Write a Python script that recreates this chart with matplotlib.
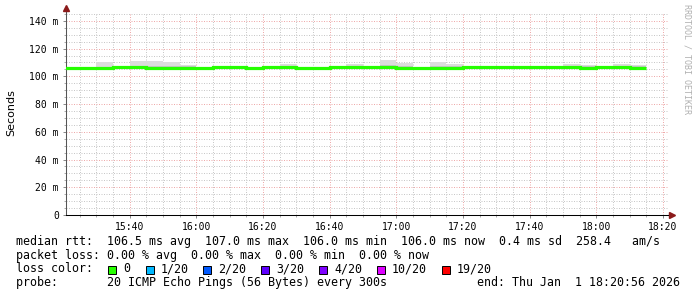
import matplotlib
matplotlib.use('Agg')
import matplotlib.pyplot as plt
import matplotlib.dates as mdates
from matplotlib.ticker import MultipleLocator, FuncFormatter
from matplotlib.patches import Rectangle
import pandas as pd

plt.rcParams['font.family'] = ['DejaVu Sans Mono']

W, H = 697, 297

# ---- data -------------------------------------------------------------
step_edges = pd.date_range('2026-01-01 15:20', periods=36, freq='5min')
median_ms = [106.0, 106.0, 106.0, 107.0, 107.0, 106.0, 106.0, 106.0, 106.0, 107.0,
             107.0, 106.0, 107.0, 107.0, 106.3, 106.0, 107.0, 107.0, 107.0, 107.0,
             106.0, 106.0, 106.0, 106.0, 107.0, 107.0, 107.0, 107.0, 107.0, 107.0,
             107.0, 106.0, 107.0, 106.8, 106.0]
smoke_top_ms = [106.3, 106.3, 110.0, 107.3, 111.1, 111.1, 110.4, 108.2, 106.5, 107.3,
                107.6, 106.3, 107.3, 109.2, 107.0, 106.3, 107.3, 108.9, 107.4, 111.8,
                109.9, 106.3, 110.6, 109.2, 107.3, 107.5, 107.3, 107.3, 107.3, 107.3,
                108.9, 108.4, 107.5, 108.9, 108.4]
smoke_core_ms = [106.2, 106.2, 107.0, 107.2, 107.8, 107.5, 107.8, 107.6, 106.4, 107.2,
                 107.3, 106.2, 107.2, 107.8, 106.8, 106.2, 107.2, 107.8, 107.3, 108.0,
                 107.5, 106.2, 107.4, 107.6, 107.2, 107.3, 107.2, 107.2, 107.2, 107.2,
                 107.8, 107.3, 107.4, 107.8, 107.4]

y_ticks = [0, 20, 40, 60, 80, 100, 120, 140]

legend_lines = [
    "median rtt:  106.5 ms avg  107.0 ms max  106.0 ms min  106.0 ms now  0.4 ms sd  258.4   am/s",
    "packet loss: 0.00 % avg  0.00 % max  0.00 % min  0.00 % now",
    "loss color:",
    "probe:       20 ICMP Echo Pings (56 Bytes) every 300s",
]
loss_labels = ["0", "1/20", "2/20", "3/20", "4/20", "10/20", "19/20"]
loss_colors = ["#26ff00", "#00b8ff", "#0059ff", "#5e00ff", "#7e00ff", "#dd00ff", "#ff0000"]
end_text = "end: Thu Jan  1 18:20:56 2026"

# ---- figure -----------------------------------------------------------
fig = plt.figure(figsize=(W / 100, H / 100), dpi=100)
fig.patch.set_facecolor('white')
ax = fig.add_axes([66 / W, 1 - 215 / H, 602 / W, 202 / H])
ax.set_facecolor('white')

t0 = pd.Timestamp('2026-01-01 15:20:56')
t1 = t0 + pd.Timedelta(seconds=602 * 18)
ax.set_xlim(mdates.date2num(t0), mdates.date2num(t1))
ax.set_ylim(0, 145.7)

edges = mdates.date2num(step_edges)
ax.stairs(smoke_top_ms, edges, baseline=median_ms, fill=True, color='#dcdcdc', lw=0, zorder=2)
ax.stairs(smoke_core_ms, edges, baseline=median_ms, fill=True, color='#c6c6c6', lw=0, zorder=2)
ax.stairs(median_ms, edges, baseline=None, color='#26ff00', lw=2.3, zorder=3)

ax.xaxis.set_major_locator(mdates.MinuteLocator(byminute=[0, 20, 40]))
ax.xaxis.set_minor_locator(mdates.MinuteLocator(byminute=range(0, 60, 5)))
ax.xaxis.set_major_formatter(mdates.DateFormatter('%H:%M'))
ax.set_yticks(y_ticks)
ax.yaxis.set_minor_locator(MultipleLocator(5))
ax.yaxis.set_major_formatter(FuncFormatter(lambda v, p: '0' if v == 0 else f'{v:.0f} m'))

ax.set_axisbelow(True)
ax.grid(which='major', color='#eeaaaa', linestyle=(0, (1, 1.5)), linewidth=0.72)
ax.grid(which='minor', color='#c8c8c8', linestyle=(0, (1, 1.5)), linewidth=0.72)

ax.tick_params(which='major', length=2.2, width=0.7, color='#888888', labelsize=7,
               labelcolor='black')
ax.tick_params(which='minor', length=1.4, width=0.7, color='#aaaaaa')
ax.tick_params(axis='x', which='major', pad=2.5)
ax.tick_params(axis='y', which='major', pad=3.0)

for s in ['top', 'right']:
    ax.spines[s].set_visible(False)
ax.spines['left'].set_color('#555555')
ax.spines['left'].set_linewidth(0.75)
ax.spines['bottom'].set_color('black')
ax.spines['bottom'].set_linewidth(0.75)

# axis arrows
ax.plot([0, 0], [1, 1 + 4 / 202], transform=ax.transAxes, color='#555555', lw=0.75, clip_on=False)
ax.plot([0], [1 + 5 / 202], marker='^', ms=4.5, color='#8b1a1a', mec='#8b1a1a',
        transform=ax.transAxes, clip_on=False)
ax.plot([1, 1 + 2 / 602], [0, 0], transform=ax.transAxes, color='black', lw=0.75, clip_on=False)
ax.plot([1 + 4 / 602], [0], marker='>', ms=4.5, color='#8b1a1a', mec='#8b1a1a',
        transform=ax.transAxes, clip_on=False)

# labels
fig.text(11 / W, 1 - 113 / H, 'Seconds', rotation=90, va='center', ha='center',
         fontsize=8, family='DejaVu Sans')
fig.text(687 / W, 1 - 4 / H, 'RRDTOOL / TOBI OETIKER', rotation=270, va='top', ha='center',
         fontsize=6, color='#b0b0b0')

# legend text
line_y = [241.5, 255.0, 269.0, 282.7]
for txt, yy in zip(legend_lines, line_y):
    fig.text(16 / W, 1 - yy / H, txt, fontsize=8.4, va='center', ha='left')
fig.text(680 / W, 1 - line_y[3] / H, end_text, fontsize=8.4, va='center', ha='right')

box_x = [108.3, 146.0, 203.3, 261.0, 319.3, 377.3, 441.7]
lab_x = [123.3, 160.7, 218.3, 276.0, 334.0, 391.7, 456.7]
for bx, lx, lab, col in zip(box_x, lab_x, loss_labels, loss_colors):
    fig.patches.append(Rectangle((bx / W, 1 - 273.5 / H), 8 / W, 8 / H,
                                 transform=fig.transFigure, facecolor=col,
                                 edgecolor='black', linewidth=0.7))
    fig.text(lx / W, 1 - line_y[2] / H, lab, fontsize=8.4, va='center', ha='left')

fig.savefig('out.png', dpi=100, facecolor='white')
